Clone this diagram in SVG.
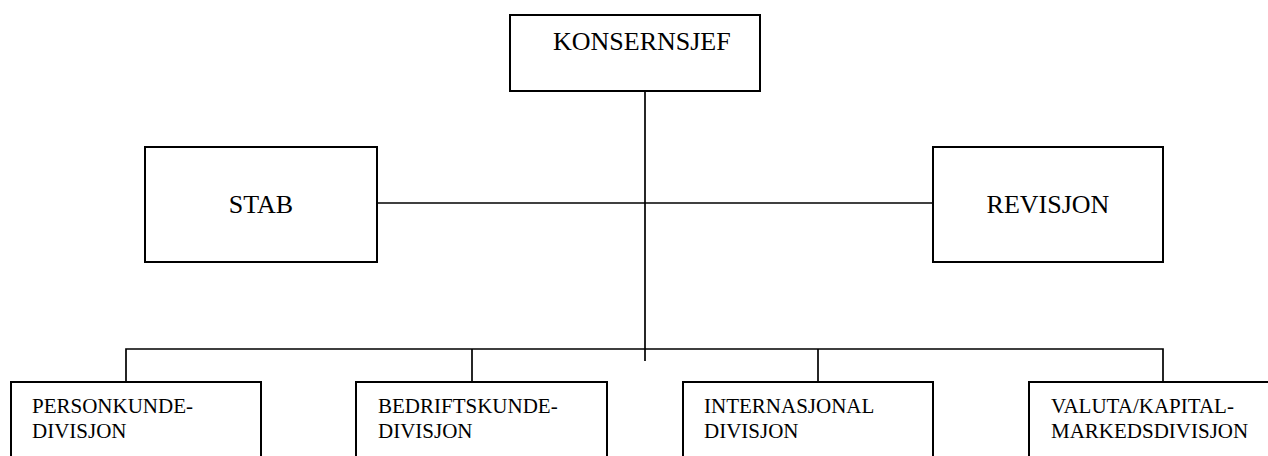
<svg xmlns="http://www.w3.org/2000/svg" width="1268" height="456" viewBox="0 0 1268 456">
<style>
.box{fill:#fff;stroke:#000;stroke-width:2}
.ln{fill:none;stroke:#000;stroke-width:1.7}
.t1{font-family:"Liberation Serif","Times New Roman",serif;font-size:26px;fill:#000}
.t2{font-family:"Liberation Serif","Times New Roman",serif;font-size:21px;fill:#000}
</style>
<rect width="1268" height="456" fill="#fff"/>
<g id="connectors">
<line class="ln" x1="645" y1="91" x2="645" y2="361"/>
<line class="ln" x1="377" y1="203" x2="933" y2="203"/>
<polyline class="ln" points="126,382 126,349 1163,349 1163,382"/>
<line class="ln" x1="472" y1="349" x2="472" y2="382"/>
<line class="ln" x1="818" y1="349" x2="818" y2="382"/>
</g>
<g id="konsernsjef">
<rect class="box" x="510" y="15" width="250" height="76"/>
<text class="t1" x="553" y="50">KONSERNSJEF</text>
</g>
<g id="stab">
<rect class="box" x="145" y="147" width="232" height="115"/>
<text class="t1" x="261" y="213" text-anchor="middle">STAB</text>
</g>
<g id="revisjon">
<rect class="box" x="933" y="147" width="230" height="115"/>
<text class="t1" x="1048" y="213" text-anchor="middle">REVISJON</text>
</g>
<g id="personkunde">
<rect class="box" x="11" y="382" width="250" height="90"/>
<text class="t2" x="32" y="413">PERSONKUNDE-</text>
<text class="t2" x="32" y="438">DIVISJON</text>
</g>
<g id="bedriftskunde">
<rect class="box" x="356" y="382" width="251" height="90"/>
<text class="t2" x="378" y="413">BEDRIFTSKUNDE-</text>
<text class="t2" x="378" y="438">DIVISJON</text>
</g>
<g id="internasjonal">
<rect class="box" x="683" y="382" width="250" height="90"/>
<text class="t2" x="704" y="413">INTERNASJONAL</text>
<text class="t2" x="704" y="438">DIVISJON</text>
</g>
<g id="valuta">
<rect class="box" x="1029" y="382" width="250" height="90"/>
<text class="t2" x="1051" y="413">VALUTA/KAPITAL-</text>
<text class="t2" x="1051" y="438">MARKEDSDIVISJON</text>
</g>
</svg>
